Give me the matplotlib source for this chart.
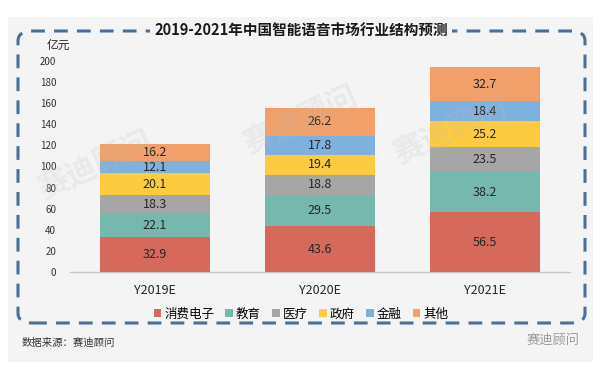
import matplotlib
matplotlib.use("Agg")
import matplotlib.pyplot as plt
from matplotlib.patches import FancyBboxPatch, Rectangle
import numpy as np

plt.rcParams['font.family'] = ['Noto Sans CJK SC', 'DejaVu Sans']

years = ["Y2019E", "Y2020E", "Y2021E"]
segments = ["消费电子", "教育", "医疗", "政府", "金融", "其他"]
consumer = [32.9, 43.6, 56.5]
education = [22.1, 29.5, 38.2]
medical = [18.3, 18.8, 23.5]
government = [20.1, 19.4, 25.2]
finance = [12.1, 17.8, 18.4]
other = [16.2, 26.2, 32.7]
yticks = [0, 20, 40, 60, 80, 100, 120, 140, 160, 180, 200]
colors = ["#D4695C", "#76B7AE", "#A6A6A6", "#FDCB3F", "#7EB1DE", "#F0A068"]

series = [consumer, education, medical, government, finance, other]

W, H = 603, 387
fig = plt.figure(figsize=(W / 100, H / 100), dpi=100)
fig.patch.set_facecolor("white")

# light panel background
panel = Rectangle((8 / W, 1 - 362 / H), (593 - 8) / W, (362 - 17) / H,
                  transform=fig.transFigure, facecolor="#F4F4F4", edgecolor="none", zorder=-2)
fig.patches.append(panel)

# dashed rounded frame
frame = FancyBboxPatch((18 / W, 1 - 323 / H), (585 - 18) / W, (323 - 31) / H,
                       boxstyle="round,pad=0,rounding_size=0.025",
                       transform=fig.transFigure, facecolor="none",
                       edgecolor="#4A7099", linewidth=2.2, linestyle=(0, (4.5, 3)), zorder=-1)
fig.patches.append(frame)

ax = fig.add_axes([70 / W, 1 - 272 / H, 500 / W, (272 - 61) / H])
ax.set_zorder(2)
ax.set_facecolor("none")
x = np.arange(len(years))
bottom = np.zeros(len(years))
for vals, col in zip(series, colors):
    vals = np.array(vals)
    ax.bar(x, vals, width=0.67, bottom=bottom, color=col, edgecolor="none", zorder=3)
    for xi, b, v in zip(x, bottom, vals):
        ax.text(xi, b + v / 2, f"{v:.1f}", ha="center", va="center",
                fontsize=9, color="#262626", zorder=4)
    bottom += vals

ax.set_xlim(-0.515, 2.515)
ax.set_ylim(0, 200)
ax.set_yticks(yticks)
ax.set_yticklabels([str(t) for t in yticks], fontsize=7, color="#333333")
ax.set_xticks(x)
ax.set_xticklabels(years, fontsize=9, color="#262626")
ax.tick_params(axis="both", length=0)
ax.tick_params(axis="y", pad=10)
ax.tick_params(axis="x", pad=9)
for s in ["top", "right", "left"]:
    ax.spines[s].set_visible(False)
ax.spines["bottom"].set_color("#C8C8C8")
ax.spines["bottom"].set_linewidth(1)

# unit label
fig.text(47 / W, 1 - 45 / H, "亿元", fontsize=8.5, color="#262626", ha="left", va="center")

# title with background to break the dashed line
fig.text(301 / W, 1 - 31 / H, "2019-2021年中国智能语音市场行业结构预测", fontsize=10.5,
         fontweight="bold", color="#1a1a1a", ha="center", va="center",
         bbox=dict(facecolor="#F4F4F4", edgecolor="none", pad=3), zorder=5)

# legend
handles = [Rectangle((0, 0), 1, 1, facecolor=c, edgecolor="none") for c in colors]
fig.legend(handles, segments, loc="center", bbox_to_anchor=(301 / W, 1 - 314 / H),
           ncol=6, frameon=False, fontsize=9, handlelength=0.6, handleheight=0.6,
           handletextpad=0.25, columnspacing=0.9)

# source
fig.text(22 / W, 1 - 343 / H, "数据来源：赛迪顾问", fontsize=7.5, color="#333333",
         ha="left", va="center")
fig.text(580 / W, 1 - 340 / H, "赛迪顾问", fontsize=9.5, color="#9a9a9a",
         ha="right", va="center")

# faint watermarks
for wx, wy in [(95, 165), (300, 120), (450, 130)]:
    fig.text(wx / W, 1 - wy / H, "赛迪顾问", fontsize=22, color="#BDBDBD", alpha=0.2,
             rotation=25, ha="center", va="center", fontweight="bold", zorder=6)

fig.savefig("out.png", dpi=100, facecolor=fig.get_facecolor())
